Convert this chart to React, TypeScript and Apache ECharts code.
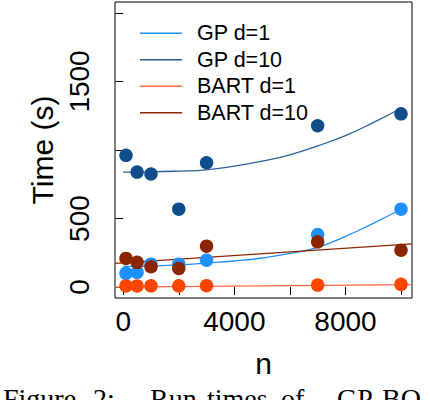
import React, { useEffect, useRef } from "react";
import * as echarts from "echarts";

// sample sizes at which run times were measured
const nValues = [100, 500, 1000, 2000, 3000, 7000, 10000];

// measured run times (s)
const gpD1Times = [100, 107, 167, 167, 196, 383, 568];
const gpD10Times = [961, 839, 825, 568, 907, 1177, 1264];
const bartD1Times = [8, 8, 9, 9, 10, 14, 20];
const bartD10Times = [209, 180, 148, 136, 298, 330, 269];

// fitted curves
const fitGrid = [0, 1000, 2000, 3000, 4000, 5000, 6000, 7000, 8000, 9000, 10000];
const gpD1Fit = [150, 153, 162, 175, 190, 212, 245, 290, 370, 465, 568];
const gpD10Fit = [838, 840, 846, 855, 882, 918, 965, 1030, 1105, 1200, 1305];

// straight fits for BART, spanning the whole plot width
const bartLineN = [-296, 10396];
const bartD1Fit = [0, 17];
const bartD10Fit = [172, 315];

// axis ticks and labels
const xTicks = [0, 2000, 4000, 6000, 8000, 10000];
const xLabels = [0, 4000, 8000];
const yTicks = [0, 500, 1000, 1500, 2000];
const yLabels = [0, 500, 1500];

// caption words (cut off at the bottom, as in the source figure)
const captionWords = ["Figure", "2:", "Run", "times", "of", "GP-BO"];
const captionX = [3, 93, 150, 207, 281, 337];

const SANS = "'Liberation Sans', Arial, sans-serif";
const SERIF = "'Liberation Serif', 'DejaVu Serif', serif";

const zip = (xs: number[], ys: number[]) => xs.map((x, i) => [x, ys[i]]);

export default function App() {
  const chartRef = useRef<HTMLDivElement>(null);

  useEffect(() => {
    if (!chartRef.current) return;
    document.body.style.margin = "0";
    const chart = echarts.init(chartRef.current, undefined, { renderer: "svg" });

    const fitLine = (name: string, color: string, data: number[][], smooth: boolean) => ({
      name,
      type: "line",
      data,
      smooth,
      showSymbol: false,
      symbol: "none",
      z: 1,
      itemStyle: { color },
      lineStyle: { color, width: 1.3 },
    });

    const dots = (name: string, color: string, data: number[][], z: number) => ({
      name,
      type: "scatter",
      data,
      symbolSize: 13.5,
      z,
      itemStyle: { color, opacity: 1 },
    });

    const option: echarts.EChartsOption = {
      animation: false,
      backgroundColor: "#fff",
      grid: {
        left: 115,
        right: 18,
        top: 2,
        bottom: 102,
        show: true,
        borderColor: "#000",
        borderWidth: 1,
        backgroundColor: "transparent",
      },
      legend: {
        data: ["GP d=1", "GP d=10", "BART d=1", "BART d=10"],
        orient: "vertical",
        left: 135,
        top: 15,
        icon: "rect",
        itemWidth: 42,
        itemHeight: 1.5,
        itemGap: 0,
        textStyle: {
          fontSize: 21.5,
          lineHeight: 26.5,
          color: "#000",
          fontFamily: SANS,
          padding: [0, 0, 0, 10],
        },
      },
      xAxis: {
        type: "value",
        min: -296,
        max: 10396,
        axisLine: { show: false },
        splitLine: { show: false },
        axisTick: {
          show: true,
          length: 8,
          customValues: xTicks,
          lineStyle: { color: "#000", width: 1 },
        },
        axisLabel: {
          customValues: xLabels,
          formatter: (v: number) => String(v),
          fontSize: 28,
          color: "#000",
          fontFamily: SANS,
          margin: 9,
        },
        name: "n",
        nameLocation: "middle",
        nameGap: 50,
        nameTextStyle: { fontSize: 30, color: "#000", fontFamily: SANS },
      },
      yAxis: {
        type: "value",
        min: -80,
        max: 2080,
        axisLine: { show: false },
        splitLine: { show: false },
        axisTick: {
          show: true,
          length: 8,
          customValues: yTicks,
          lineStyle: { color: "#000", width: 1 },
        },
        axisLabel: {
          customValues: yLabels,
          formatter: (v: number) => String(v),
          rotate: 90,
          fontSize: 28,
          color: "#000",
          fontFamily: SANS,
          margin: 22,
        },
        name: "Time (s)",
        nameLocation: "middle",
        nameGap: 58,
        nameTextStyle: { fontSize: 30, color: "#000", fontFamily: SANS },
      },
      graphic: captionWords.map((word, i) => ({
        type: "text",
        x: captionX[i],
        y: 384,
        style: {
          text: word,
          fontSize: 28,
          fontFamily: SERIF,
          fill: "#000",
          textVerticalAlign: "top",
        },
      })),
      series: [
        fitLine("GP d=1", "#1e90ff", zip(fitGrid, gpD1Fit), true),
        fitLine("GP d=10", "#2b5e96", zip(fitGrid, gpD10Fit), true),
        fitLine("BART d=1", "#ff6a3d", zip(bartLineN, bartD1Fit), false),
        fitLine("BART d=10", "#8b2500", zip(bartLineN, bartD10Fit), false),
        dots("GP d=10 runs", "#104e8b", zip(nValues, gpD10Times), 2),
        dots("GP d=1 runs", "#1e90ff", zip(nValues, gpD1Times), 3),
        dots("BART d=10 runs", "#8b2500", zip(nValues, bartD10Times), 4),
        dots("BART d=1 runs", "#ff4500", zip(nValues, bartD1Times), 5),
      ] as any,
    };

    chart.setOption(option);
    return () => chart.dispose();
  }, []);

  return <div ref={chartRef} style={{ width: 430, height: 400 }} />;
}
